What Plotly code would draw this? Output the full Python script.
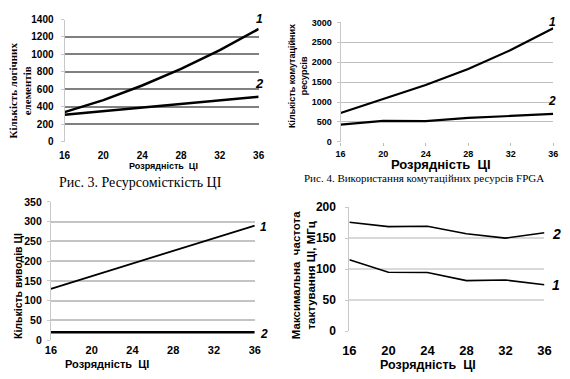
import plotly.graph_objects as go

# ---- data ----
bits = [16, 20, 24, 28, 32, 36]

# Fig. 3: logic elements
le_1 = [340, 478, 645, 835, 1050, 1292]
le_2 = [310, 350, 390, 430, 470, 515]

# Fig. 4: routing resources
rr_1 = [725, 1075, 1428, 1830, 2305, 2855]
rr_2 = [430, 525, 520, 600, 650, 700]

# pins
pins_1 = [130, 162, 194, 226, 258, 290]
pins_2 = [20, 20, 20, 20, 20, 20]

# max clock frequency
fmax_1 = [115, 95, 94.5, 81.5, 82.5, 75]
fmax_2 = [175.5, 168.5, 169, 157, 150, 158.5]

x_ticks = [16, 20, 24, 28, 32, 36]
W, H = 570, 379

def px(x):
    return x / W

def py(y):
    return 1 - y / H

fig = go.Figure()

def add(xv, yv, ax, width):
    fig.add_trace(go.Scatter(x=xv, y=yv, mode="lines", xaxis="x" + ax, yaxis="y" + ax,
                             line=dict(color="black", width=width), showlegend=False,
                             hoverinfo="skip"))

add(bits, le_1, "", 2.5)
add(bits, le_2, "", 2.5)
add(bits, rr_1, "2", 2.2)
add(bits, rr_2, "2", 2.2)
add(bits, pins_1, "3", 1.8)
add(bits, pins_2, "3", 2.5)
add(bits, fmax_1, "4", 1.6)
add(bits, fmax_2, "4", 1.6)

SANS = "Liberation Sans, Arial, sans-serif"
SERIF = "Liberation Serif, Times New Roman, serif"

def xax(dom, anchor, size, standoff, ticks=""):
    return dict(domain=dom, anchor=anchor, range=[16, 36], tickvals=x_ticks,
                showgrid=False, zeroline=False, showline=False,
                ticks=ticks, ticklen=3, tickcolor="#bbbbbb", ticklabelstandoff=standoff,
                tickfont=dict(family=SANS, size=size, color="black", weight="bold"))

def yax(dom, anchor, rng, dt, size, gcol, gw, standoff):
    return dict(domain=dom, anchor=anchor, range=rng, dtick=dt, tick0=0,
                showgrid=True, gridcolor=gcol, gridwidth=gw, zeroline=False,
                showline=True, linecolor="#c8c8c8", linewidth=1,
                ticks="outside", ticklen=3, tickcolor="#c8c8c8", ticklabelstandoff=standoff,
                tickfont=dict(family=SANS, size=size, color="black", weight="bold"))

fig.update_layout(
    width=W, height=H, margin=dict(l=0, r=0, t=0, b=0),
    paper_bgcolor="white", plot_bgcolor="white",
    xaxis=xax([px(59), px(258)], "y", 10, 6),
    yaxis=yax([py(140), py(13)], "x", [0, 1400], 200, 10, "#808080", 2, 5),
    xaxis2=xax([px(342), px(560)], "y2", 9, 0, "outside"),
    yaxis2=yax([py(140), py(16)], "x2", [0, 3000], 500, 9, "#bfbfbf", 1, 3),
    xaxis3=xax([px(45), px(254)], "y3", 11, 2),
    yaxis3=yax([py(346), py(202.3)], "x3", [0, 350], 50, 10.5, "#c4c4c4", 1.5, 3),
    xaxis4=xax([px(351), px(551)], "y4", 13, 10),
    yaxis4=yax([py(336.7), py(207.7)], "x4", [0, 200], 50, 12, "#d9d9d9", 1.5, 7),
)

def note(text, x, y, size, family=SANS, angle=0, bold=True, italic=False):
    fig.add_annotation(text=text, x=px(x), y=py(y), xref="paper", yref="paper",
                       showarrow=False, textangle=angle, xanchor="center", yanchor="middle",
                       font=dict(family=family, size=size, color="black",
                                 weight="bold" if bold else "normal",
                                 style="italic" if italic else "normal"))

# chart 1
note("Кількість логічних<br>елементів", 13, 87, 11, SERIF, -90)
note("Розрядність  ЦІ", 160, 165, 9)
note("Рис. 3. Ресурсомісткість ЦІ", 137, 182, 14, SERIF, bold=False)
note("1", 259, 12, 12, italic=True)
note("2", 259, 79, 13, italic=True)

# chart 2
note("Кількість комутаційних<br>ресурсів", 299, 72, 9, SANS, -90)
note("Розрядність  ЦІ", 445, 164, 13)
note("Рис. 4. Використання комутаційних ресурсів FPGA", 428, 178, 11, SERIF, bold=False)
note("1", 559, 16, 12, italic=True)
note("2", 559, 98, 12, italic=True)

# chart 3
note("Кількість виводів ЦІ", 12, 290, 10.5, SANS, -90)
note("Розрядність  ЦІ", 103, 371, 11)
note("1", 263, 228, 12, italic=True)
note("2", 263, 340, 12, italic=True)

# chart 4
note("Максимальна  частота<br>тактування ЦІ, МГц", 304, 279, 11.5, SANS, -90)
note("Розрядність  ЦІ", 432, 372, 12.5)
note("2", 563, 236, 14, italic=True)
note("1", 563, 289, 14, italic=True)

fig.write_html("out.html", config={"displayModeBar": False},
               post_script="document.body.style.margin='0';")
